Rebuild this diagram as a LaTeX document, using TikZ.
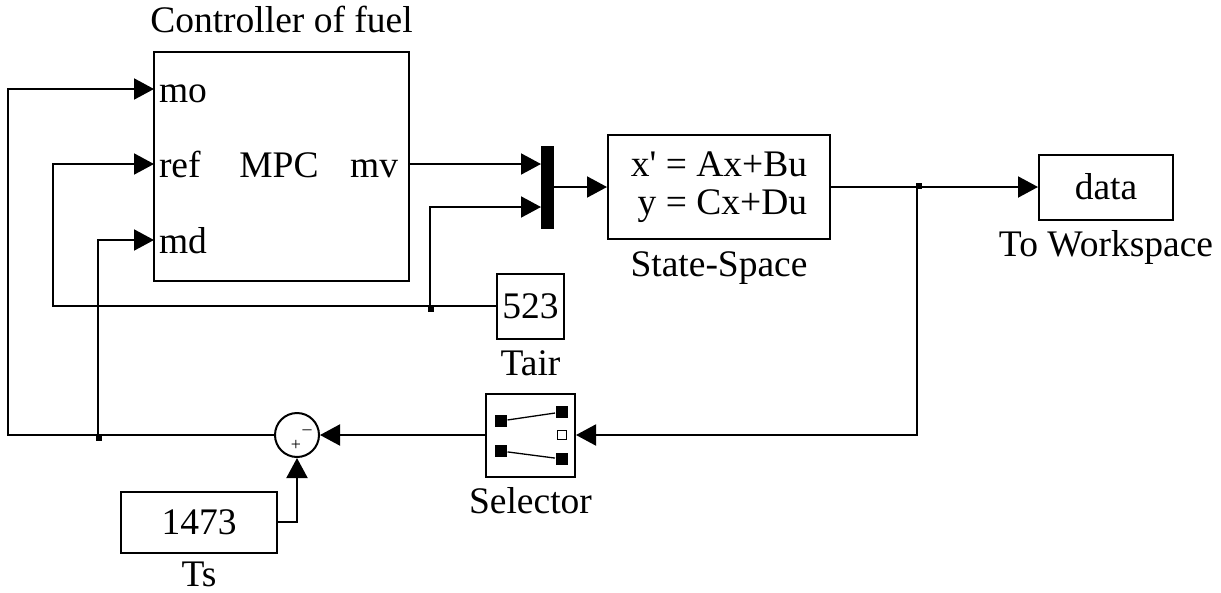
\documentclass[tikz,border=0pt]{standalone}
\usepackage{fontspec}
\setmainfont{Liberation Serif}[Ligatures=TeXOff]
\usetikzlibrary{arrows.meta,positioning,calc}

\begin{document}
\begin{tikzpicture}[
  x=1pt, y=-1pt,
  font=\fontsize{37.5}{38}\selectfont,
  line width=2pt,
  blk/.style={draw, inner sep=0pt, align=center},
  lbl/.style={inner sep=0pt},
  portlbl/.style={inner sep=0pt},
  sig/.style={-{Triangle[length=20pt,width=21pt]}},
  jdot/.style={fill, inner sep=0pt, minimum size=6pt},
  swsq/.style={fill, inner sep=0pt, minimum size=12pt},
  sgn/.style={inner sep=0pt, font=\fontsize{18}{18}\selectfont}
]
\useasboundingbox (0,0) rectangle (1221,592);

% blocks
\node[blk, minimum width=255pt, minimum height=229pt] (mpc) at (281.5,166.5) {};
\node[lbl, above=17pt of mpc] (title) {Controller of fuel};
\node[blk, fill, minimum width=11pt, minimum height=81pt] (mux) at (547.5,187) {};
\node[blk, align=right, minimum width=222pt, minimum height=104pt] (ss) at (719,187) {x' = Ax+Bu\\y = Cx+Du};
\node[lbl, below=11pt of ss] (sslbl) {State-Space};
\node[blk, minimum width=134pt, minimum height=65pt] (data) at (1106,187) {data};
\node[lbl, below=9pt of data] (datalbl) {To Workspace};
\node[blk, minimum width=67pt, minimum height=65pt] (tair) at (530.5,306) {523};
\node[lbl, below=10pt of tair] (tairlbl) {Tair};
\node[blk, minimum width=89pt, minimum height=83pt] (sel) at (530.5,435) {};
\node[lbl, below=9pt of sel] (sellbl) {Selector};
\node[blk, circle, minimum size=44pt] (sum) at (297,435) {};
\node[blk, minimum width=156pt, minimum height=61pt] (ts) at (199,522) {1473};
\node[lbl, below=7pt of ts] (tslbl) {Ts};

% ports of the controller
\coordinate (mo) at (154,89);
\coordinate (ref) at (154,164);
\coordinate (md) at (154,240);
\coordinate (mv) at (409,164);
\node[portlbl, anchor=base west] (molbl) at ($(mo)+(4,13)$) {mo};
\node[portlbl, anchor=base west] (reflbl) at ($(ref)+(4,13)$) {ref};
\node[portlbl, anchor=base west] (mdlbl) at ($(md)+(4,13)$) {md};
\node[portlbl, anchor=base east] (mvlbl) at ($(mv)+(-10,13)$) {mv};
\node[portlbl, anchor=base] (mpclbl) at (279,177) {MPC};

% sum signs
\node[sgn] (plus) at ($(sum)+(-1,10)$) {+};
\node[sgn] (minus) at ($(sum)+(10,-3)$) {\textendash};

% selector icon
\node[swsq] (slt) at ($(sel)+(-30,-14)$) {};
\node[swsq] (slb) at ($(sel)+(-30,16)$) {};
\node[swsq] (srt) at ($(sel)+(31.5,-23)$) {};
\node[draw, line width=1.3pt, inner sep=0pt, minimum size=9pt] (srm) at ($(sel)+(31.5,0)$) {};
\node[swsq] (srb) at ($(sel)+(31.5,24)$) {};
\draw[line width=1.3pt] (slt) -- (srt);
\draw[line width=1.3pt] (slb) -- (srb);

% junctions and bends
\coordinate (j1) at (917,187);
\coordinate (j2) at (98,435);
\coordinate (j3) at (430,306);
\coordinate (cmo) at (8,435);
\coordinate (cref) at (53,306);
\coordinate (in2) at (541,207);
\node[jdot] (d1) at ($(j1)+(2,-1)$) {};
\node[jdot] (d2) at ($(j2)+(1,3)$) {};
\node[jdot] (d3) at ($(j3)+(1,3)$) {};

% signals
\draw[sig] (mv) -- (mux.west |- mv);
\draw[sig] (j3) |- (in2);
\draw[sig] (mux) -- (ss);
\draw[sig] (ss) -- (data);
\draw[sig] (j1) |- (sel.east);
\draw[sig] (sel) -- (sum);
\draw[sig] (ts) -| (sum);
\draw[sig] (sum) -- (cmo) |- (mo);
\draw[sig] (j2) |- (md);
\draw[sig] (tair) -- (cref) |- (ref);
\end{tikzpicture}
\end{document}
